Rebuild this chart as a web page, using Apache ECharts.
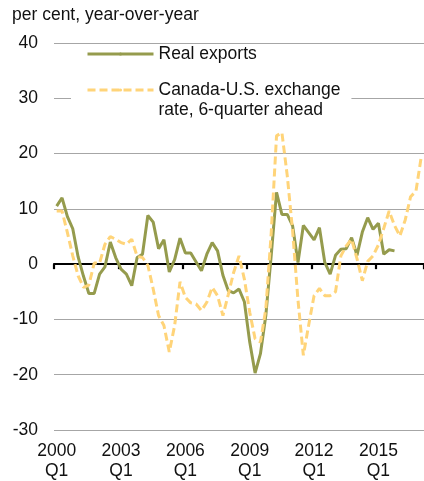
<!DOCTYPE html>
<html><head><meta charset="utf-8">
<script src="https://cdn.jsdelivr.net/npm/echarts@6/dist/echarts.min.js"></script>
<style>html,body{margin:0;padding:0;background:#fff}#c{width:424px;height:481px}</style>
</head><body><div id="c"></div>
<script>
const categories = [
'2000Q1','2000Q2','2000Q3','2000Q4','2001Q1','2001Q2','2001Q3','2001Q4',
'2002Q1','2002Q2','2002Q3','2002Q4','2003Q1','2003Q2','2003Q3','2003Q4',
'2004Q1','2004Q2','2004Q3','2004Q4','2005Q1','2005Q2','2005Q3','2005Q4',
'2006Q1','2006Q2','2006Q3','2006Q4','2007Q1','2007Q2','2007Q3','2007Q4',
'2008Q1','2008Q2','2008Q3','2008Q4','2009Q1','2009Q2','2009Q3','2009Q4',
'2010Q1','2010Q2','2010Q3','2010Q4','2011Q1','2011Q2','2011Q3','2011Q4',
'2012Q1','2012Q2','2012Q3','2012Q4','2013Q1','2013Q2','2013Q3','2013Q4',
'2014Q1','2014Q2','2014Q3','2014Q4','2015Q1','2015Q2','2015Q3','2015Q4',
'2016Q1','2016Q2','2016Q3','2016Q4','2017Q1'];

const realExports = [
10.5, 12.0, 8.6, 6.4, 1.3, -2.2, -5.3, -5.3,
-1.8, -0.5, 4.0, 1.2, -0.9, -1.8, -3.9, 1.2,
1.8, 8.8, 7.6, 2.8, 4.4, -1.4, 0.8, 4.7,
2.0, 2.0, 0.4, -1.2, 1.8, 3.9, 2.4, -2.0,
-4.8, -5.2, -4.5, -6.8, -14.1, -19.7, -16.2, -9.3,
1.5, 13.0, 9.0, 9.0, 6.9, 0.3, 7.0, 5.7,
4.4, 6.6, 0.3, -1.8, 1.6, 2.7, 2.8, 4.8,
1.6, 5.8, 8.4, 6.3, 7.4, 1.8, 2.6, 2.4];

const exchangeRate = [
9.6, 9.6, 5.7, 1.5, -2.1, -4.2, -3.8, 0.2,
0.2, 3.6, 5.0, 4.5, 3.9, 3.6, 4.5, 1.4,
1.2, -0.2, -4.5, -9.3, -11.1, -15.9, -11.1, -3.2,
-6.0, -7.0, -7.2, -8.4, -6.9, -4.2, -5.7, -9.3,
-5.5, -1.5, 1.5, -2.7, -8.7, -13.5, -14.1, -8.1,
5.5, 23.2, 23.8, 16.0, 6.0, -6.5, -16.5, -11.0,
-5.7, -4.4, -5.7, -5.7, -5.0, 1.5, 3.3, 4.5,
1.0, -3.0, 0.5, 1.5, 3.5, 6.5, 9.6, 7.0,
5.1, 8.0, 12.2, 13.2, 19.5];

const yTicks = [-30, -20, -10, 0, 10, 20, 30, 40];
const seriesNames = ['Real exports', 'Canada-U.S. exchange rate, 6-quarter ahead'];
const legendLabels = ['Real exports', '\nCanada-U.S. exchange\nrate, 6-quarter ahead'];
const unitLabel = 'per cent, year-over-year';

const FONT = "'Liberation Sans', Arial, sans-serif";
const FS = 17.5;
const TXT = '#111';
const GREEN = '#959b4d';
const ORANGE = '#ffd479';

const chart = echarts.init(document.getElementById('c'), null, {renderer: 'canvas'});
chart.setOption({
  animation: false,
  backgroundColor: '#fff',
  textStyle: {fontFamily: FONT},
  title: {
    text: unitLabel, left: 12, top: 5, padding: 0,
    textStyle: {fontFamily: FONT, fontSize: FS, fontWeight: 'normal', color: TXT, lineHeight: 20}
  },
  grid: {left: 54, right: 0, top: 43, bottom: 50, containLabel: false},
  legend: [
    {
      data: [seriesNames[0]], orient: 'vertical', left: 71, top: 44, z: 6,
      padding: [0, 11, 0, 15], itemWidth: 66, itemHeight: 4,
      lineStyle: {width: 3},
      formatter: () => legendLabels[0],
      textStyle: {fontFamily: FONT, fontSize: FS, color: TXT, lineHeight: 20},
      selectedMode: false
    },
    {
      data: [seriesNames[1]], orient: 'vertical', left: 71, top: 60, z: 5,
      backgroundColor: '#fff',
      padding: [0, 11, 0, 15], itemWidth: 66, itemHeight: 4,
      lineStyle: {width: 3},
      formatter: () => legendLabels[1],
      textStyle: {fontFamily: FONT, fontSize: FS, color: TXT, lineHeight: 20},
      selectedMode: false
    }
  ],
  xAxis: [
    {
      type: 'category', data: categories, boundaryGap: true, position: 'bottom',
      axisLine: {show: false, onZero: false}, axisTick: {show: false},
      axisLabel: {
        interval: 11, margin: 11, fontFamily: FONT, fontSize: FS, color: TXT, lineHeight: 20,
        formatter: v => v.replace('Q', '\nQ')
      },
      splitLine: {show: false}
    },
    {
      type: 'category', data: categories, boundaryGap: true, position: 'top',
      axisLine: {show: true, onZero: true, lineStyle: {color: '#000', width: 2.2}},
      axisTick: {show: true, inside: true, interval: 11, length: 5, lineStyle: {color: '#000', width: 2.2}},
      axisLabel: {show: false}, splitLine: {show: false}
    }
  ],
  yAxis: {
    type: 'value', min: yTicks[0], max: yTicks[yTicks.length - 1], interval: yTicks[1] - yTicks[0],
    axisLine: {show: false}, axisTick: {show: false},
    axisLabel: {margin: 16, fontFamily: FONT, fontSize: FS, color: TXT},
    splitLine: {show: true, lineStyle: {color: '#a6a6a6', width: 1}}
  },
  series: [
    {
      name: seriesNames[0], type: 'line', xAxisIndex: 0, data: realExports,
      symbol: 'none', lineStyle: {color: GREEN, width: 3}, itemStyle: {color: GREEN}, z: 3
    },
    {
      name: seriesNames[1], type: 'line', xAxisIndex: 0, data: exchangeRate,
      symbol: 'none', lineStyle: {color: ORANGE, width: 3, type: [8, 4]}, itemStyle: {color: ORANGE}, z: 4
    }
  ]
});
</script></body></html>
